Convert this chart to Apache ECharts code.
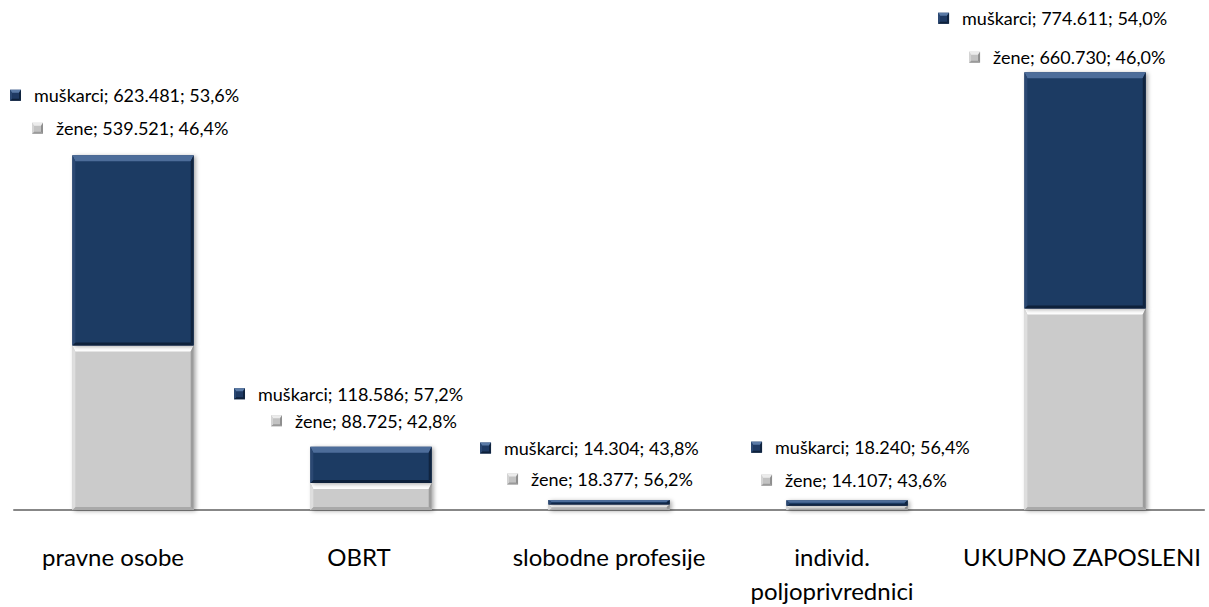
<!DOCTYPE html>
<html><head><meta charset="utf-8">
<script src="https://cdn.jsdelivr.net/npm/echarts@6/dist/echarts.min.js"></script>
<style>html,body{margin:0;padding:0;background:#fff}#c{width:1209px;height:607px}</style>
</head><body><div id="c"></div>
<script>
// ---- data ----
const categories = ['pravne osobe', 'OBRT', 'slobodne profesije', 'individ.\npoljoprivrednici', 'UKUPNO ZAPOSLENI'];
const muskarci = [623481, 118586, 14304, 18240, 774611];
const zene = [539521, 88725, 18377, 14107, 660730];
const muskarciPct = ['53,6%', '57,2%', '43,8%', '56,4%', '54,0%'];
const zenePct = ['46,4%', '42,8%', '56,2%', '43,6%', '46,0%'];
const seriesNames = ['muškarci', 'žene'];

// ---- layout (px) ----
const labelLayout = [
  { mx: -123, my: -60, zx: -101, zy: -27 },
  { mx: -137, my: -53, zx: -100, zy: -26 },
  { mx: -129, my: -52, zx: -102, zy: -21 },
  { mx: -96,  my: -53, zx: -86,  zy: -20 },
  { mx: -147, my: -54, zx: -116, zy: -15 }
];
const catShift = [-20, -12, 0, -15, -3];
const LABEL_FONT = 'Lato';
const LABEL_SIZE = 18;
const CAT_SIZE = 24;

const navy = { base: '#1f3a63', top: '#4d6d9a', left: '#2b4872', right: '#10243f', bottom: '#0e213b' };
const grey = { base: '#cbcbcb', top: '#ffffff', left: '#dedede', right: '#9c9c9c', bottom: '#a9a9a9' };
const navyMark = { base: '#1f3a63', top: '#5a7aa6', left: '#2b4872', right: '#10243f', bottom: '#0e213b' };
const greyMark = { base: '#c2c2c2', top: '#ececec', left: '#d4d4d4', right: '#8e8e8e', bottom: '#9a9a9a' };

function fmt(n) { return String(n).replace(/\B(?=(\d{3})+(?!\d))/g, '.'); }

function bevel(l, t, w, h, pal, bt, bs, bb, shadow) {
  const r = l + w, B = t + h;
  bt = Math.min(bt, h * 0.45); bb = Math.min(bb, h * 0.25);
  const els = [];
  els.push({ type: 'rect', shape: { x: l, y: t, width: w, height: h },
    style: Object.assign({ fill: pal.base }, shadow ? { shadowBlur: 4, shadowColor: 'rgba(0,0,0,0.35)', shadowOffsetX: 2, shadowOffsetY: 1 } : {}) });
  els.push({ type: 'polygon', shape: { points: [[l, t], [r, t], [r - bs, t + bt], [l + bs, t + bt]] }, style: { fill: pal.top } });
  els.push({ type: 'polygon', shape: { points: [[l, B], [r, B], [r - bs, B - bb], [l + bs, B - bb]] }, style: { fill: pal.bottom } });
  els.push({ type: 'polygon', shape: { points: [[l, t], [l + bs, t + bt], [l + bs, B - bb], [l, B]] }, style: { fill: pal.left } });
  els.push({ type: 'polygon', shape: { points: [[r, t], [r - bs, t + bt], [r - bs, B - bb], [r, B]] }, style: { fill: pal.right } });
  return els;
}

function makeRender(pal, withLabels) {
  return function (params, api) {
    const i = api.value(0);
    const p0 = api.coord([i, api.value(1)]);
    const p1 = api.coord([i, api.value(2)]);
    const w = api.size([1, 0])[0] * 0.51;
    const l = p0[0] - w / 2, t = p1[1], h = p0[1] - p1[1];
    const children = bevel(l, t, w, h, pal, 6, 3, 3, true);
    if (withLabels) {
      const L = labelLayout[i];
      const cx = p0[0];
      const lines = [
        { x: cx + L.mx, y: t + L.my, pal: navyMark, text: seriesNames[0] + '; ' + fmt(muskarci[i]) + '; ' + muskarciPct[i] },
        { x: cx + L.zx, y: t + L.zy, pal: greyMark, text: seriesNames[1] + '; ' + fmt(zene[i]) + '; ' + zenePct[i] }
      ];
      lines.forEach(function (ln) {
        bevel(ln.x, ln.y - 5.5, 11, 11, ln.pal, 3, 2, 2, false).forEach(function (e) { children.push(e); });
        children.push({ type: 'text', style: { text: ln.text, x: ln.x + 24, y: ln.y, fill: '#000',
          fontFamily: LABEL_FONT, fontSize: LABEL_SIZE, align: 'left', verticalAlign: 'middle',
          textAlign: 'left', textVerticalAlign: 'middle' } });
      });
    }
    return { type: 'group', children: children };
  };
}

const zeneData = zene.map(function (v, i) { return [i, 0, v]; });
const muskData = muskarci.map(function (v, i) { return [i, zene[i], zene[i] + v]; });

const rich = {};
catShift.forEach(function (s, i) {
  rich['c' + i] = { fontFamily: LABEL_FONT, fontSize: CAT_SIZE, lineHeight: 34, color: '#000',
    padding: s < 0 ? [0, -2 * s, 0, 0] : [0, 0, 0, 2 * s] };
});

const chart = echarts.init(document.getElementById('c'), null, { renderer: 'svg' });
chart.setOption({
  animation: false,
  backgroundColor: '#ffffff',
  grid: { left: 14, width: 1200, top: 22, height: 495, containLabel: false },
  xAxis: {
    type: 'category', data: categories,
    axisLine: { show: true, lineStyle: { color: '#878787', width: 2 } },
    axisTick: { show: false },
    axisLabel: {
      color: '#000', fontFamily: LABEL_FONT, fontSize: CAT_SIZE, lineHeight: 34, margin: 29, interval: 0,
      formatter: function (v, idx) {
        return v.split('\n').map(function (part) { return '{c' + idx + '|' + part + '}'; }).join('\n');
      },
      rich: rich
    }
  },
  yAxis: { type: 'value', min: 0, max: 1600000, show: false, splitLine: { show: false } },
  series: [
    { type: 'custom', name: seriesNames[1], data: zeneData, encode: { x: 0, y: [1, 2] }, renderItem: makeRender(grey, false), z: 3 },
    { type: 'custom', name: seriesNames[0], data: muskData, encode: { x: 0, y: [1, 2] }, renderItem: makeRender(navy, true), z: 4 }
  ]
});
</script>
</body></html>
